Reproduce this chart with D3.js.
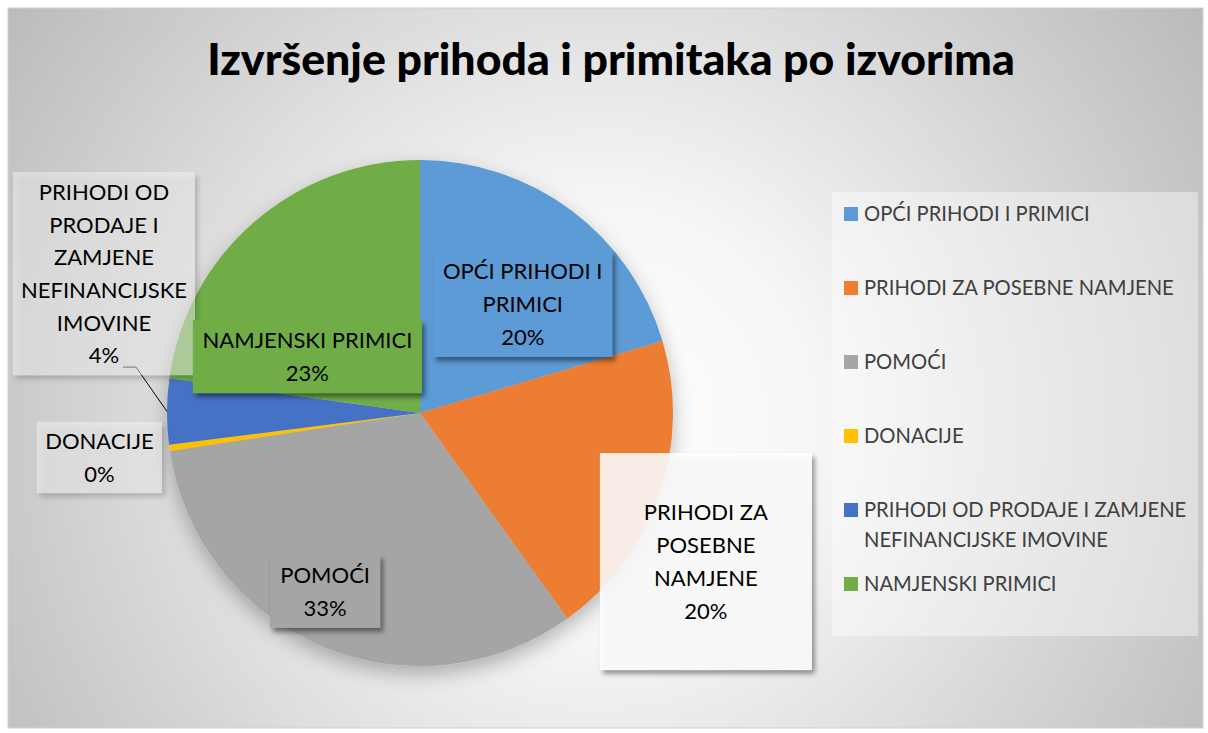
<!DOCTYPE html>
<html>
<head>
<meta charset="utf-8">
<script src="https://cdn.jsdelivr.net/npm/d3@7"></script>
<style>
  html, body { margin: 0; padding: 0; background: #fff; }
  svg { display: block; font-family: Lato, 'Noto Sans', sans-serif; }
</style>
</head>
<body>
<svg id="chart" width="1208" height="733"></svg>
<script>
const title = 'Izvršenje prihoda i primitaka po izvorima';
const categories = [
  'OPĆI PRIHODI I PRIMICI',
  'PRIHODI ZA POSEBNE NAMJENE',
  'POMOĆI',
  'DONACIJE',
  'PRIHODI OD PRODAJE I ZAMJENE NEFINANCIJSKE IMOVINE',
  'NAMJENSKI PRIMICI',
];
const values = [20.4, 19.7, 32.5, 0.4, 4.2, 22.8];
const colors = ['#5B9BD5', '#ED7D31', '#A5A5A5', '#FFC000', '#4472C4', '#70AD47'];
// wrapped text as it shows in the data labels and legend
const labelLines = [
  ['OPĆI PRIHODI I', 'PRIMICI'],
  ['PRIHODI ZA', 'POSEBNE', 'NAMJENE'],
  ['POMOĆI'],
  ['DONACIJE'],
  ['PRIHODI OD', 'PRODAJE I', 'ZAMJENE', 'NEFINANCIJSKE', 'IMOVINE'],
  ['NAMJENSKI PRIMICI'],
];
const legendLines = [
  ['OPĆI PRIHODI I PRIMICI'],
  ['PRIHODI ZA POSEBNE NAMJENE'],
  ['POMOĆI'],
  ['DONACIJE'],
  ['PRIHODI OD PRODAJE I ZAMJENE', 'NEFINANCIJSKE IMOVINE'],
  ['NAMJENSKI PRIMICI'],
];

// label box placement: centre in pie-radius units, size in px, inside = filled with slice colour
const labelBoxes = [
  { at: [0.406, -0.431], w: 179, h: 106, inside: true },
  { at: [1.130, 0.587], w: 212, h: 217, inside: false, fill: 0.85 },
  { at: [-0.375, 0.705], w: 110, h: 73, inside: true },
  { at: [-1.267, 0.176], w: 125, h: 71, inside: false, fill: 0.4 },
  { at: [-1.249, -0.551], w: 182, h: 203, inside: false, fill: 0.4, leader: true },
  { at: [-0.445, -0.223], w: 229, h: 73, inside: true },
];

const width = 1208;
const height = 733;
const svg = d3.select('#chart');
const defs = svg.append('defs');

const bg = defs.append('radialGradient')
  .attr('id', 'bg')
  .attr('gradientUnits', 'userSpaceOnUse')
  .attr('cx', 600).attr('cy', 420).attr('r', 720);
bg.append('stop').attr('offset', 0).attr('stop-color', '#ffffff');
bg.append('stop').attr('offset', 0.3).attr('stop-color', '#f6f6f6');
bg.append('stop').attr('offset', 1).attr('stop-color', '#bbbbbb');

const boxShadow = defs.append('filter').attr('id', 'boxShadow')
  .attr('x', '-20%').attr('y', '-20%').attr('width', '140%').attr('height', '140%');
boxShadow.append('feDropShadow')
  .attr('dx', 3).attr('dy', 4).attr('stdDeviation', 2.5)
  .attr('flood-color', '#000').attr('flood-opacity', 0.45);

const pieShadow = defs.append('filter').attr('id', 'pieShadow')
  .attr('x', '-20%').attr('y', '-20%').attr('width', '140%').attr('height', '150%');
pieShadow.append('feDropShadow')
  .attr('dx', 0).attr('dy', 8).attr('stdDeviation', 10)
  .attr('flood-color', '#000').attr('flood-opacity', 0.28);

// chart area
svg.append('rect')
  .attr('x', 8).attr('y', 8)
  .attr('width', 1195).attr('height', 720)
  .attr('fill', 'url(#bg)')
  .attr('stroke', '#d0d0d0')
  .attr('stroke-width', 1);

// title, squeezed to the width it has in the original
const titleText = svg.append('text')
  .attr('x', 611).attr('y', 75)
  .attr('text-anchor', 'middle')
  .attr('font-weight', 900)
  .attr('font-size', 44)
  .attr('fill', '#000')
  .text(title);
const tw = titleText.node().getComputedTextLength();
titleText.attr('font-size', 44 * 808 / tw);

// pie
const cx = 420;
const cy = 413;
const radius = 253;

const pie = d3.pie().sort(null).value((d) => d);
const arcs = pie(values);
const arc = d3.arc().innerRadius(0).outerRadius(radius);
const total = d3.sum(values);

const g = svg.append('g').attr('transform', `translate(${cx},${cy})`);

g.append('g')
  .attr('filter', 'url(#pieShadow)')
  .selectAll('path')
  .data(arcs)
  .join('path')
  .attr('d', arc)
  .attr('fill', (d, i) => colors[i]);

// leader line for the small slice label
const edgeArc = d3.arc().innerRadius(radius).outerRadius(radius);
labelBoxes.forEach((b, i) => {
  if (!b.leader) return;
  const [ex, ey] = edgeArc.centroid(arcs[i]);
  const bx = b.at[0] * radius;
  const by = b.at[1] * radius;
  const sx = bx + 19;
  const sy = by + b.h / 2 - 8;
  g.append('path')
    .attr('d', `M${sx},${sy}H${sx + 13}L${ex},${ey}`)
    .attr('fill', 'none')
    .attr('stroke', '#000')
    .attr('stroke-width', 1);
});

// data labels
const lineHeight = 32.7;
const labels = g.selectAll('g.label')
  .data(arcs)
  .join('g')
  .attr('class', 'label')
  .attr('transform', (d, i) => `translate(${labelBoxes[i].at[0] * radius},${labelBoxes[i].at[1] * radius})`);

labels.append('rect')
  .attr('x', (d, i) => -labelBoxes[i].w / 2)
  .attr('y', (d, i) => -labelBoxes[i].h / 2)
  .attr('width', (d, i) => labelBoxes[i].w)
  .attr('height', (d, i) => labelBoxes[i].h)
  .attr('fill', (d, i) => (labelBoxes[i].inside ? colors[i] : '#ffffff'))
  .attr('fill-opacity', (d, i) => (labelBoxes[i].inside ? 1 : labelBoxes[i].fill))
  .attr('filter', 'url(#boxShadow)');

labels.each(function (d, i) {
  const lines = labelLines[i].concat([`${Math.round((d.value / total) * 100)}%`]);
  const n = lines.length;
  d3.select(this)
    .selectAll('text')
    .data(lines)
    .join('text')
    .attr('x', 0)
    .attr('y', (t, k) => (k - (n - 1) / 2) * lineHeight + 8)
    .attr('text-anchor', 'middle')
    .attr('font-size', 22)
    .attr('fill', '#000')
    .text((t) => t);
});

// legend
const legend = svg.append('g').attr('transform', 'translate(832,192)');
legend.append('rect')
  .attr('width', 366).attr('height', 444)
  .attr('fill', '#ffffff').attr('fill-opacity', 0.4);

const legendY = d3.scaleLinear().domain([0, 1]).range([22, 96]);
const items = legend.selectAll('g.item')
  .data(categories)
  .join('g')
  .attr('class', 'item')
  .attr('transform', (d, i) => `translate(0,${legendY(i)})`);

items.append('rect')
  .attr('x', 12).attr('y', -7)
  .attr('width', 14).attr('height', 14)
  .attr('fill', (d, i) => colors[i]);

items.each(function (d, i) {
  d3.select(this)
    .selectAll('text')
    .data(legendLines[i])
    .join('text')
    .attr('x', 32)
    .attr('y', (t, k) => k * 30 + 7)
    .attr('font-size', 20.2)
    .attr('fill', '#404040')
    .text((t) => t);
});
</script>
</body>
</html>
